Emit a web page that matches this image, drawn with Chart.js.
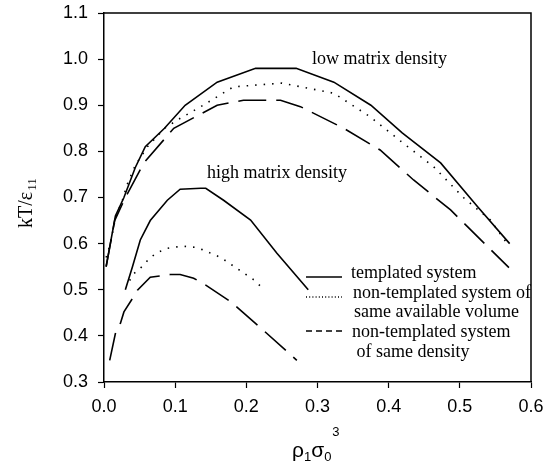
<!DOCTYPE html>
<html>
<head>
<meta charset="utf-8">
<script src="https://cdn.jsdelivr.net/npm/chart.js@4.4.1/dist/chart.umd.min.js"></script>
<style>
  html, body { margin: 0; padding: 0; background: #fff; }
  #wrap { width: 559px; height: 472px; }
</style>
</head>
<body>
<div id="wrap"><canvas id="chart" width="559" height="472"></canvas></div>
<script>
// low matrix density
const lowTemplX = [0.003, 0.016, 0.028, 0.044, 0.058, 0.085, 0.114, 0.159, 0.213, 0.27, 0.323, 0.375, 0.419, 0.473, 0.525, 0.57];
const lowTemplY = [0.55, 0.66, 0.70, 0.765, 0.81, 0.85, 0.90, 0.95, 0.98, 0.98, 0.95, 0.90, 0.84, 0.775, 0.68, 0.60];
const lowVolX = [0.003, 0.009, 0.016, 0.026, 0.033, 0.044, 0.061, 0.085, 0.103, 0.136, 0.182, 0.25, 0.323, 0.374, 0.421, 0.463, 0.505, 0.543, 0.568];
const lowVolY = [0.57, 0.60, 0.655, 0.695, 0.73, 0.77, 0.81, 0.85, 0.868, 0.897, 0.94, 0.948, 0.926, 0.875, 0.817, 0.767, 0.70, 0.651, 0.597];
const lowDensX = [0.003, 0.015, 0.03, 0.056, 0.098, 0.159, 0.196, 0.248, 0.276, 0.337, 0.388, 0.435, 0.487, 0.569];
const lowDensY = [0.55, 0.65, 0.70, 0.775, 0.85, 0.90, 0.911, 0.911, 0.897, 0.85, 0.803, 0.738, 0.673, 0.548];

// high matrix density
const highTemplX = [0.030, 0.040, 0.051, 0.065, 0.089, 0.107, 0.136, 0.143, 0.168, 0.206, 0.243, 0.287];
const highTemplY = [0.50, 0.55, 0.608, 0.65, 0.694, 0.718, 0.72, 0.72, 0.694, 0.651, 0.579, 0.50];
const highVolX = [0.036, 0.042, 0.054, 0.065, 0.077, 0.089, 0.103, 0.114, 0.128, 0.138, 0.164, 0.187, 0.211, 0.225];
const highVolY = [0.52, 0.535, 0.551, 0.57, 0.582, 0.59, 0.593, 0.594, 0.592, 0.587, 0.57, 0.546, 0.521, 0.50];
const highDensX = [0.008, 0.016, 0.023, 0.028, 0.040, 0.047, 0.065, 0.093, 0.107, 0.126, 0.143, 0.178, 0.224, 0.271];
const highDensY = [0.347, 0.405, 0.427, 0.452, 0.481, 0.499, 0.527, 0.533, 0.533, 0.525, 0.51, 0.474, 0.412, 0.347];

const xTicks = [0.0, 0.1, 0.2, 0.3, 0.4, 0.5, 0.6];
const yTicks = [0.3, 0.4, 0.5, 0.6, 0.7, 0.8, 0.9, 1.0, 1.1];

const legendLabels = [
    ['templated system'],
    ['non-templated system of', 'same available volume'],
    ['non-templated system', ' of same density']
];

const DOTTED = [1.5, 7];
const DASHED = [28, 10];

function pts(xs, ys) {
    return xs.map((x, i) => ({ x: x, y: ys[i] }));
}

function series(label, xs, ys, dash) {
    return {
        label: label,
        data: pts(xs, ys),
        borderColor: '#000',
        borderWidth: 1.6,
        borderDash: dash,
        pointRadius: 0,
        tension: 0,
        fill: false
    };
}

const serif = '"Liberation Serif", "Times New Roman", serif';
const sans = '"Liberation Sans", Arial, sans-serif';

function noPad(scale) {
    scale.paddingTop = 0;
    scale.paddingBottom = 0;
    scale.paddingLeft = 0;
    scale.paddingRight = 0;
}

// frame, axis titles, annotations and legend
const extras = {
    id: 'extras',
    afterDraw(chart) {
        const ctx = chart.ctx;
        const a = chart.chartArea;
        ctx.save();
        ctx.strokeStyle = '#000';
        ctx.lineWidth = 1.5;
        ctx.beginPath();
        ctx.moveTo(a.left, a.top);
        ctx.lineTo(a.right, a.top);
        ctx.lineTo(a.right, a.bottom);
        ctx.stroke();

        ctx.fillStyle = '#000';
        ctx.textBaseline = 'alphabetic';
        ctx.textAlign = 'left';

        // annotations
        ctx.font = '18px ' + serif;
        ctx.fillText('low matrix density', 312, 64);
        ctx.fillText('high matrix density', 207, 178);

        // legend
        const samples = [[277, []], [297, [1, 2.2]], [331, [6, 4]]];
        ctx.lineWidth = 1.3;
        samples.forEach(s => {
            ctx.setLineDash(s[1]);
            ctx.beginPath();
            ctx.moveTo(306, s[0]);
            ctx.lineTo(342, s[0]);
            ctx.stroke();
        });
        ctx.setLineDash([]);
        ctx.fillText(legendLabels[0][0], 351, 278);
        ctx.fillText(legendLabels[1][0], 353, 298);
        ctx.fillText(legendLabels[1][1], 354, 317);
        ctx.fillText(legendLabels[2][0], 352, 337);
        ctx.fillText(legendLabels[2][1], 352, 357);

        // x title: rho_1 sigma_0 ^3
        let x = 292;
        const base = 457;
        ctx.font = '21px ' + sans;
        ctx.fillText('\u03C1', x, base); x += ctx.measureText('\u03C1').width;
        ctx.font = '13px ' + sans;
        ctx.fillText('1', x, base + 4); x += ctx.measureText('1').width;
        ctx.font = '21px ' + sans;
        ctx.fillText('\u03C3', x, base); x += ctx.measureText('\u03C3').width;
        ctx.font = '13px ' + sans;
        ctx.fillText('0', x, base + 4); x += ctx.measureText('0').width + 1;
        ctx.fillText('3', x, base - 21);

        // y title: kT/eps_11
        ctx.translate(32, 228);
        ctx.rotate(-Math.PI / 2);
        ctx.font = '20px ' + serif;
        ctx.fillText('kT/\u03B5', 0, 0);
        const w = ctx.measureText('kT/\u03B5').width;
        ctx.font = '13px ' + serif;
        ctx.fillText('11', w + 1, 4);
        ctx.restore();
    }
};

const ctx = document.getElementById('chart').getContext('2d');
new Chart(ctx, {
    type: 'line',
    data: {
        datasets: [
            series('templated system', lowTemplX, lowTemplY, []),
            series('non-templated system of same available volume', lowVolX, lowVolY, DOTTED),
            series('non-templated system of same density', lowDensX, lowDensY, DASHED),
            series('templated system (high)', highTemplX, highTemplY, []),
            series('same available volume (high)', highVolX, highVolY, DOTTED),
            series('same density (high)', highDensX, highDensY, DASHED)
        ]
    },
    options: {
        responsive: false,
        devicePixelRatio: 1,
        animation: false,
        layout: { padding: { top: 13, right: 28, left: 0, bottom: 0 } },
        plugins: {
            legend: { display: false },
            tooltip: { enabled: false }
        },
        scales: {
            x: {
                type: 'linear',
                min: 0,
                max: 0.6,
                afterFit(scale) { scale.height = 90; noPad(scale); },
                afterBuildTicks(scale) { scale.ticks = xTicks.map(v => ({ value: v })); },
                ticks: {
                    color: '#000',
                    font: { family: sans, size: 18 },
                    padding: 8,
                    maxRotation: 0,
                    callback: v => Number(v).toFixed(1)
                },
                grid: { drawOnChartArea: false, drawTicks: true, tickLength: 6, tickColor: '#000', tickWidth: 1.2 },
                border: { display: true, color: '#000', width: 1.5 }
            },
            y: {
                type: 'linear',
                min: 0.3,
                max: 1.1,
                afterFit(scale) { scale.width = 104; noPad(scale); },
                afterBuildTicks(scale) { scale.ticks = yTicks.map(v => ({ value: v })); },
                ticks: {
                    color: '#000',
                    font: { family: sans, size: 18 },
                    padding: 10,
                    callback: v => Number(v).toFixed(1)
                },
                grid: { drawOnChartArea: false, drawTicks: true, tickLength: 6, tickColor: '#000', tickWidth: 1.2 },
                border: { display: true, color: '#000', width: 1.5 }
            }
        }
    },
    plugins: [extras]
});
</script>
</body>
</html>
